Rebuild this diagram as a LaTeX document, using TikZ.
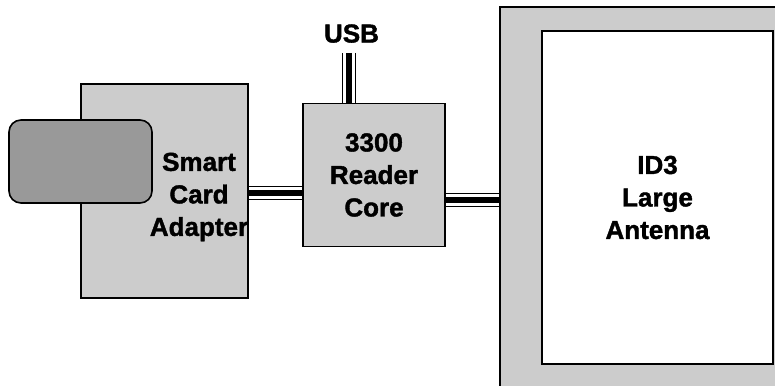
\documentclass[tikz,border=0pt]{standalone}
\usepackage{fontspec}
\setmainfont{Liberation Sans}[BoldFeatures={FakeBold=1.5}]
\usetikzlibrary{positioning,backgrounds}

\begin{document}
\begin{tikzpicture}[x=1pt, y=-1pt,
  block/.style={rectangle, draw, line width=1.6pt, fill=gray!40, inner sep=0pt},
  label/.style={font=\fontsize{26}{32.5}\selectfont\bfseries, align=center, inner sep=0pt},
  cable/.style={line width=12pt, white,
    preaction={draw, black, line width=14pt},
    postaction={draw, black, line width=6pt}}]
\useasboundingbox (0,0) rectangle (775,385);
\clip (0,0) rectangle (775,385);
% blocks
\node (adapter) [block, minimum width=167pt, minimum height=214pt] at (164.5,191) {};
\node (card) [block, fill=gray!80, rounded corners=12pt, minimum width=143pt, minimum height=83pt] at (80.5,161.5) {};
\node (adaptertext) [label] at (199,197) {Smart\\Card\\Adapter};
\node (core) [block, label, minimum width=142pt, minimum height=143pt] at (374,175) {3300\\Reader\\Core};
\node (antenna) [block, minimum width=290pt, minimum height=385pt] at (645,199.5) {};
\node (inner) [block, fill=white, label, minimum width=231pt, minimum height=333pt] at (657.5,197.5) {ID3\\Large\\Antenna};
\coordinate (usbend) at (348.5,53);
\node (usb) [label, above=10pt of usbend, xshift=3pt] {USB};
% cables
\begin{scope}[on background layer]
\draw[cable] (adapter.east |- 0,193) -- (core.west |- 0,193);
\draw[cable] (core.east |- antenna.west) -- (antenna.west);
\draw[cable] (usbend) -- (usbend |- core.north);
\end{scope}
\end{tikzpicture}
\end{document}
